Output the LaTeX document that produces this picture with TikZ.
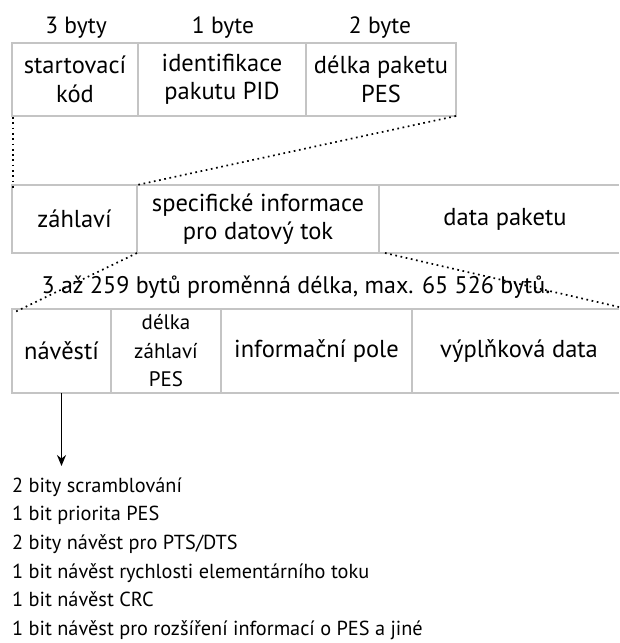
\documentclass[tikz,border=0pt]{standalone}
\usepackage{fontspec}
\setmainfont{PT Sans}
\usetikzlibrary{arrows.meta}
\definecolor{boxgray}{RGB}{196,196,196}
\newcommand\cellsize{\fontsize{24.5}{28.5}\selectfont}
\newcommand\smallcellsize{\fontsize{21}{28.5}\selectfont}
\newcommand\headsize{\fontsize{23.5}{28}\selectfont}
\newcommand\notesize{\fontsize{24}{28}\selectfont}
\newcommand\itemsize{\fontsize{20.3}{28}\selectfont}
\begin{document}
\begin{tikzpicture}[x=1pt,y=-1pt,
  cell/.style={draw=boxgray, line width=1.6pt, inner sep=0pt, outer sep=0pt, align=center, font=\cellsize},
  opencell/.style={inner sep=0pt, outer sep=0pt, align=center, font=\cellsize},
  edge/.style={draw=boxgray, line width=1.6pt},
  head/.style={inner sep=0pt, anchor=base, font=\headsize},
  note/.style={inner sep=0pt, anchor=base, font=\notesize},
  dots/.style={line width=1.7pt, dash pattern=on 1.7pt off 3.6pt},
  item/.style={inner sep=0pt, anchor=base west, font=\itemsize}]
\useasboundingbox (0,0) rectangle (619,643);

% byte counts above the first row
\node[head] (h1) at (76,33) {3 byty};
\node[head] (h2) at (223,33) {1 byte};
\node[head] (h3) at (380,33) {2 byte};

% first row: packet header fields
\node[cell, minimum width=126pt, minimum height=73pt] (a1) at (75,79.5) {startovací\\kód};
\node[cell, minimum width=168pt, minimum height=73pt] (a2) at (222,79.5) {identifikace\\pakutu PID};
\node[cell, minimum width=150pt, minimum height=73pt] (a3) at (381,79.5) {délka paketu\\PES};

% second row: PES packet, open towards the right
\coordinate (r2) at (619,219);
\node[cell, minimum width=125pt, minimum height=68pt] (b1) at (74.5,219) {záhlaví};
\node[cell, minimum width=242pt, minimum height=68pt] (b2) at (258,219) {specifické informace\\pro datový tok};
\node[opencell, minimum width=240pt, minimum height=68pt] (b3) at (505,219) {data paketu};
\draw[edge] (b2.north east) -- (b2.north east -| r2) (b2.south east) -- (b2.south east -| r2);

% length note
\node[note] (len) at (296,293) {3 až 259 bytů proměnná délka, max. 65 526 bytů.};

% third row: stream-specific information, open towards the right
\coordinate (r3) at (619,351);
\node[cell, minimum width=99pt, minimum height=84pt] (c1) at (61.5,351) {návěstí};
\node[cell, minimum width=110pt, minimum height=84pt, font=\smallcellsize] (c2) at (166,351) {délka\\záhlaví\\PES};
\node[cell, minimum width=191pt, minimum height=84pt] (c3) at (316.5,351) {informační pole};
\node[opencell, minimum width=207pt, minimum height=84pt] (c4) at (519,351) {výplňková data};
\draw[edge] (c3.north east) -- (c3.north east -| r3) (c3.south east) -- (c3.south east -| r3);

% dotted expansion lines
\coordinate (e1) at (619,307);
\draw[dots] ([xshift=1pt,yshift=-1pt]a1.south west) -- ([xshift=1pt,yshift=-4pt]b1.north west);
\draw[dots] (a3.south east) -- (b2.north west);
\draw[dots] (b2.south west) -- ([xshift=3pt,yshift=-3pt]c1.north west);
\draw[dots] ([xshift=6pt]b2.south east) -- (e1);

% flag bits
\coordinate (fl) at (61.5,466);
\draw[line width=1.6pt, -{Stealth[length=11pt,width=9pt]}] (c1.south) -- (fl);

\node[item] (i1) at (12,492) {2 bity scramblování};
\node[item] (i2) at (12,520.7) {1 bit priorita PES};
\node[item] (i3) at (12,549.4) {2 bity návěst pro PTS/DTS};
\node[item] (i4) at (12,578.1) {1 bit návěst rychlosti elementárního toku};
\node[item] (i5) at (12,606.8) {1 bit návěst CRC};
\node[item] (i6) at (12,635.5) {1 bit návěst pro rozšíření informací o PES a jiné};
\end{tikzpicture}
\end{document}
